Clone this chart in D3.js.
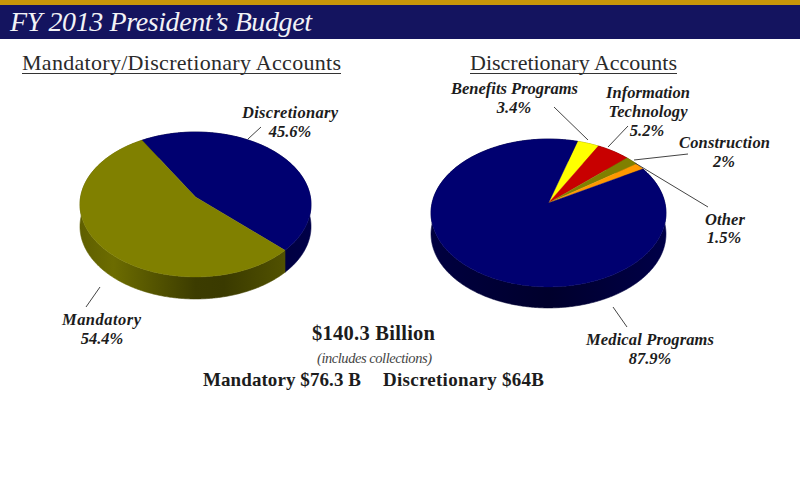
<!DOCTYPE html>
<html><head><meta charset="utf-8">
<script src="https://cdn.jsdelivr.net/npm/d3@7"></script>
<style>html,body{margin:0;padding:0;background:#fff}svg{display:block}</style>
</head><body><div id="c"></div>
<script>
// ---- data ----
const titleText = "FY 2013 President\u2019s Budget";
const leftCategories = ["Discretionary", "Mandatory"];
const leftValues = [45.6, 54.4];
const rightCategories = ["Benefits Programs", "Information Technology", "Construction", "Other", "Medical Programs"];
const rightValues = [3.4, 5.2, 2, 1.5, 87.9];

// ---- styles ----
const leftColors = ["#000070", "#808000"];
const rightColors = ["#ffff00", "#c80000", "#808000", "#ff9900", "#000070"];
const sideStops = {
  "#000070": [[0,"#000040"],[0.5,"#00002c"],[1,"#000048"]],
  "#808000": [[0,"#5e5e00"],[0.15,"#6c6c00"],[0.5,"#3c3c00"],[0.62,"#3a3a00"],[1,"#5c5c00"]],
  "#ffff00": [[0,"#808000"],[1,"#808000"]],
  "#c80000": [[0,"#640000"],[1,"#640000"]],
  "#ff9900": [[0,"#804c00"],[1,"#804c00"]]
};
const FONT = "'Liberation Serif','Noto Serif',serif";
const INK = "#1c1c1c";

const W = 800, H = 479;
const svg = d3.select("#c").append("svg").attr("width", W).attr("height", H).attr("viewBox", [0,0,W,H]);
svg.append("rect").attr("width", W).attr("height", H).attr("fill", "#fff");
svg.append("rect").attr("width", W).attr("height", 5).attr("fill", "#c89608");
svg.append("rect").attr("y", 5).attr("width", W).attr("height", 34).attr("fill", "#14145f");
const defs = svg.append("defs");

function txt(s, x, y, size, o = {}) {
  const t = svg.append("text").attr("x", x).attr("y", y).text(s)
    .attr("font-family", FONT).attr("font-size", size)
    .attr("fill", o.fill || INK)
    .attr("text-anchor", o.anchor || "middle")
    .attr("font-style", o.italic ? "italic" : "normal")
    .attr("font-weight", o.bold ? "bold" : "normal");
  if (o.len) t.attr("textLength", o.len).attr("lengthAdjust", "spacing");
  return t;
}

function drawPie(cfg) {
  const { cx, cy, A, B, k, depth, start, values, colors, id } = cfg;
  const pt = a => {            // perspective projection of a point on the rim
    const u = Math.sin(a), v = -Math.cos(a), w = 1 - k * v;
    return [cx + A * u / w, cy + B * v / w];
  };
  const arcs = d3.pie().sort(null).startAngle(start).endAngle(start + 2 * Math.PI)(values);
  const line = d3.line();
  const samples = d => {
    const n = Math.max(2, Math.ceil((d.endAngle - d.startAngle) / 0.01));
    return d3.range(n + 1).map(i => d.startAngle + (d.endAngle - d.startAngle) * i / n);
  };
  const xL = cx - A * 1.02, xR = cx + A * 1.02;
  arcs.forEach((d, i) => {
    const gid = `${id}-side-${i}`;
    const g = defs.append("linearGradient").attr("id", gid).attr("gradientUnits", "userSpaceOnUse")
      .attr("x1", xL).attr("x2", xR).attr("y1", 0).attr("y2", 0);
    sideStops[colors[i]].forEach(s => g.append("stop").attr("offset", s[0]).attr("stop-color", s[1]));
    const rim = samples(d).map(pt);
    const low = rim.map(p => [p[0], p[1] + depth]).reverse();
    svg.append("path").attr("d", line(rim.concat(low)) + "Z").attr("fill", `url(#${gid})`)
      .attr("stroke", `url(#${gid})`).attr("stroke-width", 0.6);
  });
  arcs.forEach((d, i) => {
    const rim = samples(d).map(pt);
    svg.append("path").attr("d", line([[cx, cy]].concat(rim)) + "Z")
      .attr("fill", colors[i]).attr("stroke", colors[i]).attr("stroke-width", 0.4);
  });
}

drawPie({ id:"l", cx:195.5, cy:197, A:114.9, B:71.7, k:0.1034, depth:22,
  start:-30.5*Math.PI/180, values:leftValues, colors:leftColors });
drawPie({ id:"r", cx:548.5, cy:203, A:116.4, B:72.6, k:0.135, depth:21,
  start:16.4*Math.PI/180, values:rightValues, colors:rightColors });

// ---- header and titles ----
txt(titleText, 10, 31, 28, { anchor:"start", italic:true, fill:"#f2f2f6", len:302 });
txt("Mandatory/Discretionary Accounts", 22, 70, 22, { anchor:"start", fill:"#2a2a2a", len:319 });
txt("Discretionary Accounts", 470, 70, 22, { anchor:"start", fill:"#2a2a2a", len:207 });
svg.selectAll("line.u").data([[22,341],[470,677]]).join("line").attr("class","u")
  .attr("x1", d=>d[0]).attr("x2", d=>d[1]).attr("y1",73.5).attr("y2",73.5)
  .attr("stroke","#333").attr("stroke-width",1);

// ---- labels (category, value, layout) ----
const lab = { italic:true, bold:true };
const LS = 16.5;
txt(leftCategories[0], 290, 118, LS, { ...lab, len:96 });
txt(leftValues[0] + "%", 290, 137, LS, lab);
txt(leftCategories[1], 101.5, 325, LS, { ...lab, len:79 });
txt(leftValues[1] + "%", 102, 344, LS, lab);
txt(rightCategories[0], 514.5, 94, LS, { ...lab, len:127 });
txt(rightValues[0] + "%", 514, 113, LS, lab);
txt("Information", 648, 98, LS, { ...lab, len:84 });
txt("Technology", 648, 117, LS, { ...lab, len:79 });
txt(rightValues[1] + "%", 647, 136, LS, lab);
txt(rightCategories[2], 724.5, 148, LS, { ...lab, len:91 });
txt(rightValues[2] + "%", 724, 167, LS, lab);
txt(rightCategories[3], 725, 225, LS, { ...lab, len:40 });
txt(rightValues[3] + "%", 724, 243, LS, lab);
txt(rightCategories[4], 650, 345, LS, { ...lab, len:128 });
txt(rightValues[4] + "%", 650, 364, LS, lab);

// ---- leader lines ----
const leaders = [[248,139,261,127],[100,287,86,307],[554,107,588,140],[628,126,608,147],
                 [688,154,634,160],[708,207,635,163],[613,307,627,327]];
svg.selectAll("line.l").data(leaders).join("line").attr("class","l")
  .attr("x1",d=>d[0]).attr("y1",d=>d[1]).attr("x2",d=>d[2]).attr("y2",d=>d[3])
  .attr("stroke","#444").attr("stroke-width",1);

// ---- totals ----
txt("$140.3 Billion", 373.5, 340, 20.5, { bold:true, len:123 });
txt("(includes collections)", 374.5, 363, 14.5, { italic:true, fill:"#444", len:115 });
txt("Mandatory $76.3 B", 203, 386, 19, { anchor:"start", bold:true, len:158 });
txt("Discretionary $64B", 383, 386, 19, { anchor:"start", bold:true, len:161 });
</script></body></html>
